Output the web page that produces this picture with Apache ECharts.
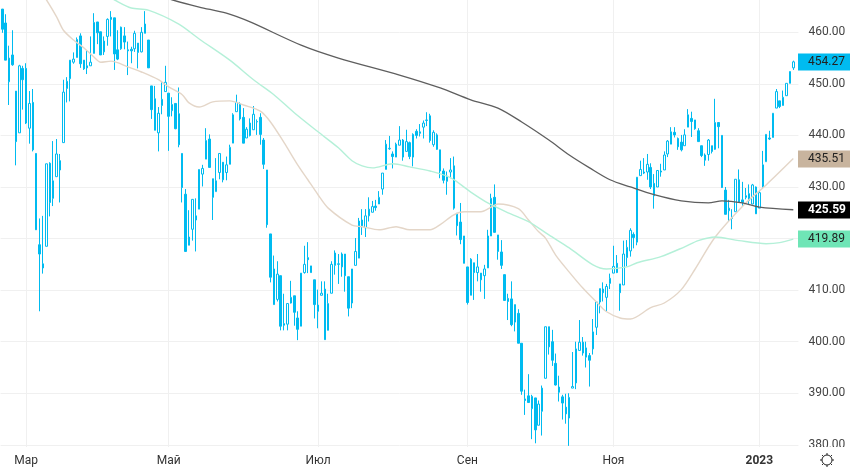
<!DOCTYPE html>
<html style="height: 100%">
<head>
    <meta charset="utf-8">
</head>
<body style="height: 100%; margin: 0; background: #fff">
<div id="container" style="width: 850px; height: 470px"></div>
<script type="text/javascript" src="https://cdn.jsdelivr.net/npm/echarts@6/dist/echarts.min.js"></script>
<script type="text/javascript">
    var opens = [
        464.5,461.8,450.4,455.6,448.6,440.5,453.0,453.0,441.4,446.4,
        436.5,418.8,415.1,418.5,434.6,427.8,432.0,435.1,438.6,449.1,
        451.0,454.2,455.1,459.3,454.6,453.5,453.5,455.9,462.0,460.1,
        456.2,459.2,462.9,462.8,456.6,456.8,459.3,456.6,456.7,456.8,
        457.9,456.2,459.8,458.5,449.6,447.1,440.5,445.8,448.5,448.2,
        444.8,446.2,444.2,436.5,428.6,418.7,421.8,424.4,425.7,432.5,
        435.4,439.3,431.6,429.1,432.8,434.8,432.8,434.4,438.5,444.6,
        446.1,443.5,439.5,442.4,441.1,442.6,443.5,439.1,433.3,420.9,
        414.1,408.2,412.8,403.5,403.4,407.5,408.9,404.6,403.0,413.4,
        416.3,414.7,412.0,407.1,409.0,410.2,402.2,409.4,414.8,415.1,
        414.5,417.0,412.6,407.5,414.8,416.2,423.6,422.1,424.4,425.1,
        426.3,426.7,429.6,433.4,437.4,436.4,435.8,438.1,439.1,436.9,
        438.6,435.8,440.8,440.4,441.6,442.9,443.8,438.2,440.1,437.2,
        433.1,431.1,432.9,434.1,424.9,423.2,420.5,414.5,409.0,415.3,
        413.4,413.3,412.8,414.3,420.5,428.0,420.7,417.4,413.0,408.4,
        408.3,403.8,405.5,399.7,388.9,389.5,387.0,389.1,383.8,386.5,
        392.9,402.9,400.0,395.8,391.2,389.3,387.3,385.2,391.0,392.0,
        398.3,399.9,397.0,397.3,398.6,402.8,407.7,410.2,408.6,411.3,
        413.3,415.2,411.2,411.0,416.3,417.6,420.8,419.3,432.2,432.9,
        432.9,433.8,430.7,430.0,433.1,433.3,436.4,438.3,440.6,439.4,
        438.7,438.0,441.6,443.3,443.0,440.9,438.0,436.2,436.3,438.0,
        437.3,442.5,440.0,429.4,425.4,423.9,425.2,431.4,427.5,428.3,
        428.7,426.7,430.0,425.9,429.9,434.9,439.5,439.6,445.3,446.7,
        445.8,447.7,450.1,453.1
    ];
    var closes = [
        460.6,454.6,455.0,453.7,438.8,453.5,450.8,442.4,446.2,437.2,
        421.7,417.0,414.3,434.5,427.0,431.2,436.4,433.3,448.4,450.5,
        454.6,454.8,458.6,453.9,452.9,453.1,454.2,461.9,459.9,455.6,
        458.3,462.5,462.5,455.8,454.8,461.0,458.1,456.4,456.4,459.8,
        456.1,460.0,461.6,453.1,445.0,441.0,444.3,447.0,450.3,443.7,
        446.0,441.3,438.2,429.9,417.5,420.3,427.6,423.6,433.4,433.6,
        439.0,433.8,428.0,431.2,436.5,431.4,434.3,437.7,444.0,446.4,
        443.2,438.5,441.2,440.0,444.1,442.7,440.2,434.4,422.7,412.5,
        407.2,413.1,403.0,403.2,407.4,408.6,405.7,402.4,413.3,415.0,
        415.9,413.4,407.2,405.9,409.4,400.4,407.4,415.0,417.2,415.0,
        417.0,412.8,406.5,414.1,417.5,423.4,422.5,424.4,425.7,426.2,
        426.0,428.0,432.7,438.3,437.5,435.9,438.3,439.1,435.8,438.8,
        435.9,440.2,440.0,440.7,442.4,443.0,439.0,440.6,437.3,433.1,
        431.3,432.1,433.3,425.9,422.5,419.8,415.2,407.6,416.0,413.4,
        414.5,412.0,414.1,420.5,427.8,421.2,417.5,414.8,408.0,407.8,
        403.3,407.2,399.7,390.4,388.6,388.2,389.4,382.9,387.9,391.0,
        402.9,399.0,396.4,391.6,390.2,388.1,386.0,389.2,391.3,398.6,
        399.9,397.8,398.8,396.4,401.9,407.7,410.3,409.5,410.7,412.3,
        414.6,413.4,409.5,417.0,418.3,421.6,420.2,431.9,433.4,432.7,
        434.4,430.0,428.3,433.2,432.9,436.2,438.9,440.7,440.1,437.8,
        437.2,440.1,444.0,442.7,441.3,438.8,436.1,435.2,439.1,436.9,
        442.5,441.7,429.9,424.7,425.9,424.1,431.5,427.0,427.0,428.0,
        427.4,430.4,424.8,428.9,434.3,440.2,439.3,444.3,448.5,445.6,
        447.4,450.1,452.4,454.27
    ];
    var lows = [
        459.9,454.6,445.9,453.5,434.2,440.5,445.0,442.2,438.4,436.9,
        421.7,405.9,413.2,418.5,424.3,426.3,432.0,427.0,438.6,446.4,
        446.6,453.9,455.1,453.1,452.7,451.9,453.5,455.9,457.7,455.6,
        455.6,457.4,459.2,452.7,454.6,456.6,456.7,451.7,454.0,456.2,
        453.0,456.1,459.8,453.1,443.2,441.0,436.9,444.1,448.5,437.0,
        443.7,441.2,437.7,427.0,417.5,418.7,419.6,417.5,425.7,430.1,
        435.4,433.8,423.6,429.1,431.5,430.9,431.3,434.4,438.5,444.6,
        442.9,438.5,439.5,439.8,441.1,440.1,438.2,433.5,422.1,411.5,
        407.2,407.8,402.2,402.2,402.2,407.4,403.1,400.3,403.0,413.2,
        413.3,413.4,404.5,402.6,409.0,400.4,402.2,409.4,413.0,411.2,
        412.6,409.7,404.9,406.5,414.8,416.2,420.7,420.3,423.3,425.1,
        425.4,426.7,428.5,433.4,437.2,433.6,435.8,438.1,435.1,436.9,
        435.4,434.0,439.4,439.8,439.4,441.8,438.6,437.8,437.2,431.7,
        430.7,428.5,431.7,425.6,420.6,418.9,415.2,407.2,409.0,408.1,
        411.7,409.7,408.3,414.3,420.5,421.2,415.9,414.1,408.0,404.2,
        403.0,402.0,399.7,389.7,385.8,388.2,381.1,380.3,383.8,381.8,
        392.9,397.5,395.3,391.5,388.4,384.9,384.1,379.8,391.0,390.8,
        398.3,397.3,395.0,391.3,397.5,401.3,405.5,407.8,405.9,410.2,
        413.3,413.3,406.0,411.0,414.6,416.5,418.1,418.7,432.2,432.5,
        431.4,429.6,425.8,430.0,432.0,433.3,435.8,438.3,439.6,437.2,
        436.9,438.0,441.6,439.7,441.1,438.8,435.8,434.1,435.1,436.5,
        437.2,437.5,429.8,424.7,423.4,421.8,425.2,426.9,426.2,427.6,
        426.5,426.7,424.8,425.9,429.9,434.9,439.1,439.6,445.3,445.3,
        445.8,447.7,450.1,452.7
    ];
    var highs = [
        464.5,463.5,457.4,460.4,448.6,453.7,453.5,454.0,448.6,449.0,
        436.5,423.9,424.4,434.5,434.8,438.9,439.3,436.4,450.8,451.3,
        454.6,456.1,459.0,459.8,454.6,456.4,459.2,463.7,462.0,460.1,
        459.2,462.7,464.1,462.8,460.4,461.1,461.0,458.2,457.2,460.3,
        457.9,461.0,464.1,458.5,449.6,449.6,445.5,450.3,453.5,448.2,
        447.4,446.2,449.3,436.5,429.6,425.5,427.6,427.8,433.4,434.3,
        441.4,440.2,431.6,435.6,436.5,434.8,435.9,438.2,444.3,447.9,
        446.4,445.3,441.6,443.3,445.7,443.1,444.3,439.5,433.3,420.9,
        416.7,415.6,412.8,409.3,407.4,411.8,408.9,405.9,413.3,418.6,
        419.3,414.7,412.0,410.1,411.7,411.7,409.3,415.6,417.7,417.0,
        417.3,417.0,412.6,414.1,420.1,424.0,425.7,425.7,428.0,427.3,
        427.5,429.2,432.7,439.1,439.9,436.9,438.6,441.8,439.3,441.1,
        438.8,440.4,441.2,442.2,442.9,444.5,444.2,441.0,440.4,437.2,
        433.6,433.0,435.6,435.9,424.9,426.9,420.5,414.5,416.2,415.3,
        417.0,413.3,414.9,421.7,428.7,430.5,420.7,419.7,413.0,409.3,
        411.7,407.2,406.3,399.7,390.7,393.7,389.7,389.1,388.6,391.5,
        402.9,402.9,402.3,397.7,393.4,389.7,389.9,390.0,398.0,400.0,
        404.2,400.9,400.0,397.8,404.4,407.7,410.3,411.5,411.2,413.2,
        418.6,416.8,411.2,419.6,419.7,422.0,421.2,431.9,435.1,435.6,
        436.4,434.6,432.5,433.3,434.5,436.9,439.1,441.6,441.6,439.6,
        440.1,441.2,445.1,444.6,443.0,441.4,438.0,436.5,439.3,438.0,
        447.1,442.5,440.0,430.0,427.5,425.7,431.5,433.4,431.0,429.8,
        430.5,430.6,430.1,429.4,437.0,440.2,440.9,444.3,449.0,446.7,
        448.7,450.1,452.4,454.5
    ];

    // [candle index, value]
    var tanLine = [[11,468.2],[13,466.3],[16,463.0],[18,460.4],[21,458.5],[24,457.0],[27,455.2],[29,454.2],[32,454.4],[37,453.3],
        [41,452.3],[46,450.8],[49,449.4],[53,447.9],[55,446.3],[58,445.5],[62,446.5],[67,446.7],[71,445.9],[76,444.7],
        [79,442.6],[83,438.6],[87,434.3],[90,431.4],[93,428.5],[96,425.9],[103,422.6],[106,422.3],[111,421.7],[116,422.3],
        [120,421.7],[126,421.7],[129,422.7],[133,424.6],[136,425.2],[141,425.2],[144,426.1],[146,426.7],[152,425.8],[155,423.6],
        [158,421.3],[160,420.1],[163,416.8],[167,413.5],[171,410.4],[175,407.7],[178,405.8],[182,404.6],[185,404.4],[191,406.6],
        [195,407.5],[200,410.1],[204,414.0],[210,420.3],[219,426.9],[225,430.4],[233,435.51]];
    var greenLine = [[29,467.8],[33,466.3],[38,464.7],[43,464.3],[52,461.6],[58,458.7],[67,454.6],[74,450.8],[80,447.9],[86,444.4],
        [93,440.7],[99,437.6],[103,435.1],[106,434.1],[109,433.7],[115,434.5],[120,433.9],[126,433.1],[132,431.8],[138,429.0],
        [143,426.9],[149,425.0],[155,423.3],[161,420.7],[167,418.2],[174,414.9],[178,414.1],[184,414.5],[187,415.3],[194,416.5],
        [201,418.4],[205,419.6],[210,420.3],[217,419.6],[225,419.0],[229,419.2],[233,419.89]];
    var darkLine = [[43,467.8],[50,466.3],[58,464.9],[66,463.7],[73,462.0],[88,457.5],[99,455.0],[117,451.7],[129,449.2],[138,446.9],
        [146,445.3],[153,442.6],[161,439.1],[167,436.2],[173,433.7],[179,431.4],[185,430.0],[192,428.5],[200,427.3],[208,426.9],
        [212,427.3],[218,426.9],[223,426.1],[233,425.59]];

    var tickIndex = [7, 49, 93, 137, 180, 223];
    var tickLabels = ['Мар', 'Май', 'Июл', 'Сен', 'Ноя', '2023'];
    var tags = [
        {value: 454.27, bg: '#00bbf0', color: '#222', weight: 'normal'},
        {value: 435.51, bg: '#c8b49e', color: '#222', weight: 'normal'},
        {value: 425.59, bg: '#000000', color: '#fff', weight: 'bold'},
        {value: 419.89, bg: '#6fe5b6', color: '#222', weight: 'normal'}
    ];

    var candles = opens.map(function (o, i) {
        return [o, closes[i], lows[i], highs[i]];
    });
    // one empty slot after the last candle
    var categories = [];
    for (var i = 0; i < candles.length + 1; i++) {
        var t = tickIndex.indexOf(i);
        categories.push(t >= 0 ? tickLabels[t] : String(i));
    }
    function isTick(index) {
        return tickIndex.indexOf(index) >= 0;
    }

    var BLUE = '#00bbf0';
    var FONT = 'Roboto, sans-serif';

    var dom = document.getElementById("container");
    var myChart = echarts.init(dom);
    var option = {
        animation: false,
        backgroundColor: '#fff',
        grid: {left: 0.6, top: 0, width: 797.8, height: 496.4, outerBoundsMode: 'none'},
        xAxis: [
            {
                type: 'category',
                data: categories,
                axisLine: {show: false},
                axisTick: {show: false},
                axisLabel: {show: false},
                splitLine: {show: true, alignWithLabel: true, interval: isTick, lineStyle: {color: '#f0f0f0', width: 1}}
            },
            {
                type: 'category',
                data: categories,
                position: 'bottom',
                offset: -41,
                z: 11,
                axisLine: {show: false},
                axisTick: {show: false},
                splitLine: {show: false},
                axisLabel: {
                    interval: isTick,
                    margin: 0,
                    color: '#333',
                    fontFamily: FONT,
                    fontSize: 12,
                    formatter: function (v) { return v === '2023' ? '{year|2023}' : v; },
                    rich: {year: {fontWeight: 'bold', color: '#333', fontFamily: FONT, fontSize: 12}}
                }
            }
        ],
        yAxis: {
            type: 'value',
            position: 'right',
            min: 370,
            max: 466.26,
            interval: 10,
            axisLine: {show: false},
            axisTick: {show: false},
            splitLine: {show: true, showMaxLine: false, lineStyle: {color: '#f0f0f0', width: 1}},
            axisLabel: {
                margin: 10,
                color: '#444',
                fontFamily: FONT,
                fontSize: 12,
                showMaxLabel: false,
                formatter: function (v) { return v.toFixed(2); }
            }
        },
        series: [
            {
                type: 'candlestick',
                data: candles,
                barWidth: 2,
                z: 2,
                itemStyle: {color: '#fff', color0: BLUE, borderColor: BLUE, borderColor0: BLUE, borderWidth: 1}
            },
            {type: 'line', data: tanLine, symbol: 'none', smooth: 0.3, z: 3, lineStyle: {color: '#e4d6c8', width: 1.4}},
            {type: 'line', data: greenLine, symbol: 'none', smooth: 0.3, z: 3, lineStyle: {color: '#b4f0d8', width: 1.4}},
            {type: 'line', data: darkLine, symbol: 'none', smooth: 0.3, z: 3, lineStyle: {color: '#5e5e5e', width: 1.3}}
        ]
    };
    myChart.setOption(option, true);

    // strip under the plot, then price tags and the settings icon on top of it
    var elements = [
        {type: 'rect', z: 10, shape: {x: 0, y: 447, width: 850, height: 23}, style: {fill: '#fff'}}
    ];
    tags.forEach(function (tag) {
        var y = myChart.convertToPixel({yAxisIndex: 0}, tag.value);
        elements.push({type: 'rect', z: 12, shape: {x: 798, y: Math.round(y) - 8.5, width: 52, height: 17}, style: {fill: tag.bg}});
        elements.push({type: 'text', z: 13, x: 808, y: y, style: {
            text: tag.value.toFixed(2), fill: tag.color, font: tag.weight + ' 12px ' + FONT, verticalAlign: 'middle'
        }});
    });
    elements.push({type: 'circle', z: 12, shape: {cx: 827, cy: 460, r: 5}, style: {fill: 'none', stroke: '#222', lineWidth: 1}});
    for (var a = 0; a < 8; a++) {
        var ang = a * Math.PI / 4;
        elements.push({type: 'line', z: 12, shape: {
            x1: 827 + 5 * Math.cos(ang), y1: 460 + 5 * Math.sin(ang),
            x2: 827 + 7 * Math.cos(ang), y2: 460 + 7 * Math.sin(ang)
        }, style: {stroke: '#222', lineWidth: 1}});
    }
    myChart.setOption({graphic: {elements: elements}});
</script>
</body>
</html>
